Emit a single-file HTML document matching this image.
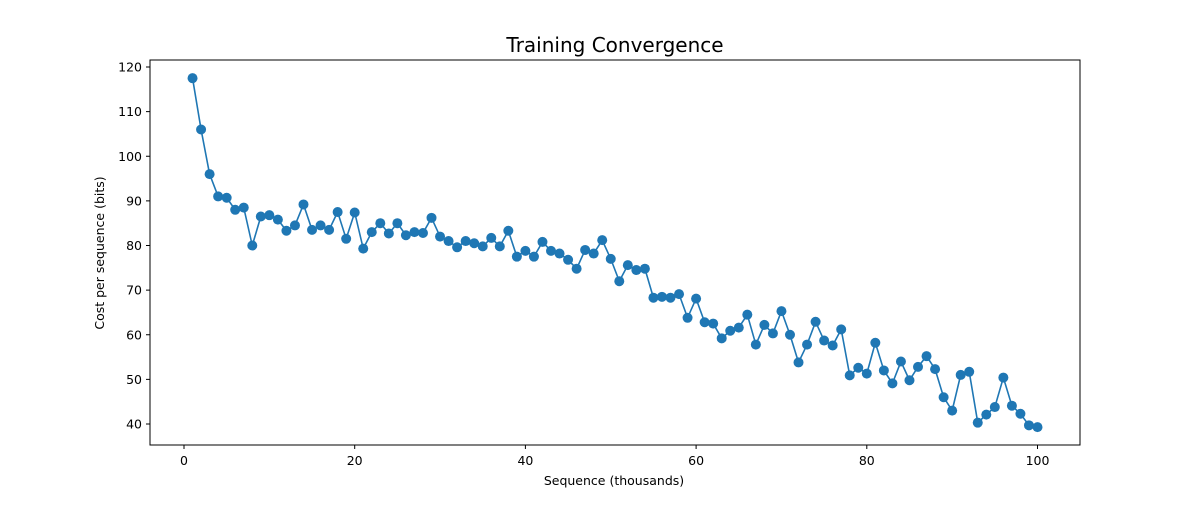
<!DOCTYPE html>
<html><head><meta charset="utf-8"><style>
body{margin:0;background:#fff}
svg text{font-family:"DejaVu Sans","Liberation Sans",sans-serif;fill:#000}
</style></head><body>
<svg id="chart" width="1200" height="500" xmlns="http://www.w3.org/2000/svg">
<rect width="1200" height="500" fill="#fff"/>
<text x="615" y="52" font-size="20" text-anchor="middle">Training Convergence</text>
<g id="ticks"></g>
<g id="series"></g>
<rect x="150" y="60" width="930" height="385" fill="none" stroke="#000" stroke-width="1"/>
<text x="614" y="485" font-size="12.5" text-anchor="middle">Sequence (thousands)</text>
<text transform="translate(104,253) rotate(-90)" font-size="12.5" text-anchor="middle">Cost per sequence (bits)</text>
</svg>
<script>
const costValues=[117.5,106,96,91,90.7,88,88.5,80,86.5,86.8,85.8,83.3,84.5,89.2,83.5,84.5,83.5,87.5,81.5,87.4,79.3,83,85,82.7,85,82.3,83,82.8,86.2,82,81,79.6,81,80.5,79.8,81.7,79.8,83.3,77.5,78.8,77.5,80.8,78.8,78.2,76.8,74.8,79,78.2,81.2,77,72,75.6,74.5,74.8,68.3,68.5,68.3,69.1,63.8,68.1,62.8,62.5,59.2,60.9,61.6,64.5,57.8,62.2,60.3,65.3,60,53.8,57.8,62.9,58.7,57.6,61.2,50.9,52.6,51.3,58.2,52,49.1,54,49.8,52.8,55.2,52.3,46,43,51,51.7,40.3,42.1,43.8,50.4,44.1,42.3,39.7,39.3];
const xTicks=[0,20,40,60,80,100];
const yTicks=[40,50,60,70,80,90,100,110,120];
const NS="http://www.w3.org/2000/svg";
const xs=v=>184+v*8.535;
const ys=v=>424-(v-40)*4.4625;
const tg=document.getElementById('ticks');
function mk(t,a,p){const e=document.createElementNS(NS,t);for(const k in a)e.setAttribute(k,a[k]);p.appendChild(e);return e;}
xTicks.forEach(v=>{
  const l=mk('line',{x1:xs(v),x2:xs(v),y1:445,y2:449,stroke:'#000'},tg);
  
  
  const t=mk('text',{x:xs(v),y:465,'font-size':12.5,'text-anchor':'middle'},tg);t.textContent=v;
  
  
});
yTicks.forEach(v=>{
  const l=mk('line',{x1:146,x2:150,y1:ys(v),y2:ys(v),stroke:'#000'},tg);
  
  
  const t=mk('text',{x:142,y:ys(v)+4.5,'font-size':12.5,'text-anchor':'end'},tg);t.textContent=v;
  
  
});
const sg=document.getElementById('series');
const pts=costValues.map((v,i)=>xs(i+1)+','+ys(v)).join(' ');
const pl=mk('polyline',{points:pts,fill:'none',stroke:'#1f77b4','stroke-width':1.6},sg);


costValues.forEach((v,i)=>{
  const c=mk('circle',{cx:xs(i+1),cy:ys(v),r:5,fill:'#1f77b4'},sg);
  
  
});
</script>
</body></html>
